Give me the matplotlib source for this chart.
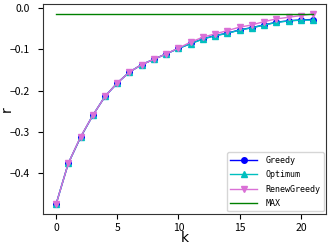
import matplotlib
matplotlib.use("Agg")
import matplotlib.pyplot as plt
import numpy as np

k = list(range(22))
greedy = [-0.475, -0.376, -0.313, -0.260, -0.214, -0.1815, -0.155, -0.137, -0.124, -0.111,
          -0.098, -0.086, -0.0747, -0.0667, -0.061, -0.053, -0.0475, -0.041, -0.0345,
          -0.031, -0.029, -0.028]
optimum = [-0.475, -0.376, -0.313, -0.260, -0.214, -0.1815, -0.155, -0.137, -0.124, -0.111,
           -0.098, -0.0865, -0.0752, -0.0672, -0.0615, -0.0535, -0.048, -0.0415, -0.035,
           -0.0315, -0.0295, -0.0295]
renew = [-0.475, -0.376, -0.312, -0.260, -0.214, -0.1815, -0.155, -0.137, -0.124, -0.111,
         -0.097, -0.0827, -0.0706, -0.0627, -0.0547, -0.0465, -0.041, -0.033, -0.0265,
         -0.0225, -0.0185, -0.0145]
max_val = [-0.0145] * 22

tick_font = ['Noto Sans CJK SC', 'DejaVu Sans']

fig = plt.figure(figsize=(3.32, 2.45), dpi=100)
ax = fig.add_axes([0.13, 0.127, 0.852, 0.855])

ax.plot(k, greedy, color="blue", marker="o", markersize=4, linewidth=1, label="Greedy")
ax.plot(k, optimum, color="#00bfbf", marker="^", markersize=4, linewidth=1, label="Optimum")
ax.plot(k, renew, color="orchid", marker="v", markersize=4, linewidth=1, label="RenewGreedy")
ax.plot(k, max_val, color="green", linewidth=1, label="MAX")

ax.set_xticks([0, 5, 10, 15, 20])
ax.set_yticks([0.0, -0.1, -0.2, -0.3, -0.4])
ax.tick_params(axis="x", length=3.5, pad=3)
ax.tick_params(axis="y", length=3.5, pad=6)
for lab in ax.get_xticklabels() + ax.get_yticklabels():
    lab.set_family(tick_font)
    lab.set_fontsize(7.5)
for sp in ax.spines.values():
    sp.set_color("#333333")

ax.set_xlabel("k", fontsize=10)
ax.set_ylabel("r", fontsize=10)
ax.xaxis.set_label_coords(0.5, -0.08)
ax.yaxis.set_label_coords(-0.105, 0.5)

leg = ax.legend(loc="lower right", prop={"family": "DejaVu Sans Mono", "size": 6},
                handlelength=3.2, handletextpad=1.0, borderaxespad=0.3,
                labelspacing=0.65)

fig.savefig("out.png", dpi=100)
